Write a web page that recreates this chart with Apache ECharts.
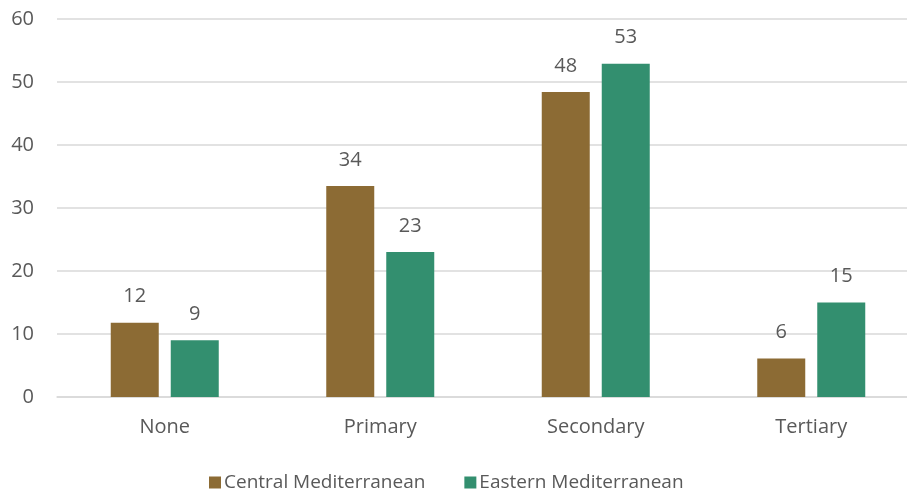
<!DOCTYPE html>
<html><head><meta charset="utf-8">
<script src="https://cdn.jsdelivr.net/npm/echarts@6/dist/echarts.min.js"></script>
<style>html,body{margin:0;padding:0;background:#fff;overflow:hidden;width:907px;height:493px}#c{width:919px;height:493px}</style>
</head><body><div id="c"></div>
<script>
const categories = ['None', 'Primary', 'Secondary', 'Tertiary'];
const centralMed = [11.8, 33.5, 48.4, 6.1];
const easternMed = [9.0, 23.0, 52.9, 15.0];
const seriesNames = ['Central Mediterranean', 'Eastern Mediterranean'];
const yTicks = [0, 10, 20, 30, 40, 50, 60];

const font = '"Open Sans", sans-serif';
const txt = '#595959';
const chart = echarts.init(document.getElementById('c'), null, {renderer: 'canvas'});
const labelOpt = {show: true, position: 'top', distance: 16, color: txt, fontFamily: font, fontSize: 20,
  formatter: p => Math.round(p.value)};
chart.setOption({
  animation: false,
  textStyle: {fontFamily: font},
  grid: {left: 57, right: 0, top: 19, bottom: 96, containLabel: false},
  legend: {
    top: 468, left: 204, itemWidth: 12, itemHeight: 12, itemGap: 39,
    icon: 'rect', textStyle: {color: txt, fontSize: 19, fontFamily: font, padding: [0, 0, 0, -2]},
    data: seriesNames
  },
  xAxis: {
    type: 'category', data: categories,
    axisLine: {lineStyle: {color: '#d9d9d9', width: 1.5}}, axisTick: {show: false},
    axisLabel: {color: txt, fontSize: 20, fontFamily: font, margin: 20}
  },
  yAxis: {
    type: 'value', min: yTicks[0], max: yTicks[yTicks.length - 1], interval: 10,
    axisLine: {show: false}, axisTick: {show: false},
    splitLine: {lineStyle: {color: '#d9d9d9', width: 1.5}},
    axisLabel: {color: txt, fontSize: 20, fontFamily: font, margin: 23}
  },
  series: [
    {name: seriesNames[0], type: 'bar', data: centralMed, barWidth: 48, barGap: '25%',
     itemStyle: {color: '#8c6b34'}, label: labelOpt},
    {name: seriesNames[1], type: 'bar', data: easternMed, barWidth: 48,
     itemStyle: {color: '#338f6f'}, label: labelOpt}
  ]
});
</script></body></html>
